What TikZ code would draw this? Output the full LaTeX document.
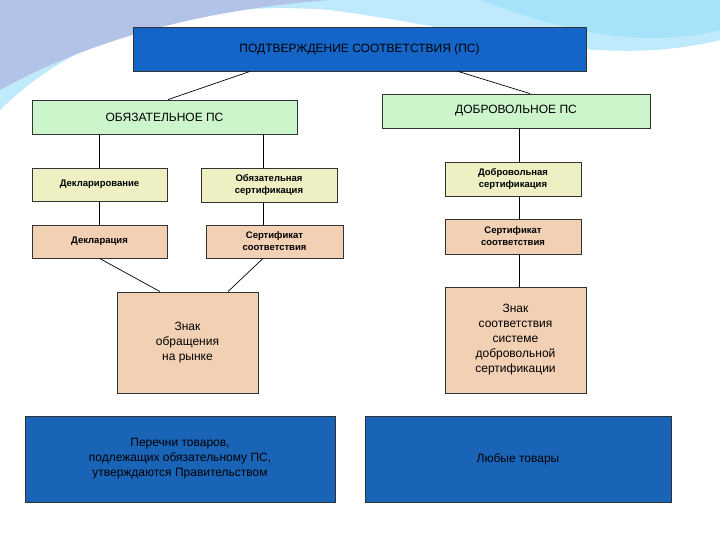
\documentclass[tikz,border=0pt]{standalone}
\usepackage{fontspec}
\setmainfont{Liberation Sans}
\begin{document}
\begin{tikzpicture}[x=1pt,y=-1pt,
 box/.style={draw=black!80,line width=0.8pt,align=center,inner sep=0pt},
 ln/.style={draw=black,line width=0.7pt}]
\definecolor{topblue}{HTML}{1565C8}
\definecolor{botblue}{HTML}{1A64B8}
\definecolor{grn}{HTML}{CCF5CC}
\definecolor{yel}{HTML}{EEF0C4}
\definecolor{pch}{HTML}{F2D0B4}
\useasboundingbox (0,0) rectangle (720,540);
\fill[white] (0,0) rectangle (720,540);
\fill[cyan!25] (0,0) -- (720,0) -- (720,40) .. controls (600,70) and (480,30) .. (330,10) .. controls (200,0) and (80,30) .. (0,110) -- cycle;
\fill[cyan!45!blue!30] (0,0) -- (330,0) .. controls (200,10) and (90,40) .. (0,90) -- cycle;
\fill[cyan!35] (480,0) -- (720,0) -- (720,30) .. controls (640,50) and (560,30) .. (480,0) -- cycle;
\node[box,fill=topblue,minimum width=453,minimum height=44,font=\fontsize{12}{14}\selectfont] (ps) at (359.5,49) {ПОДТВЕРЖДЕНИЕ СООТВЕТСТВИЯ (ПС)};
\node[box,fill=grn,minimum width=265,minimum height=34,font=\fontsize{12}{14}\selectfont] (ob) at (164.5,117) {ОБЯЗАТЕЛЬНОЕ ПС};
\node[box,fill=grn,minimum width=268,minimum height=34,font=\fontsize{12}{14}\selectfont] (dob) at (516,111) {ДОБРОВОЛЬНОЕ ПС};
\node[box,fill=yel,minimum width=135,minimum height=33,font=\bfseries\fontsize{9.5}{12}\selectfont] (dekl) at (99.5,184.5) {Декларирование};
\node[box,fill=yel,minimum width=136,minimum height=34,font=\bfseries\fontsize{9.5}{12}\selectfont] (obc) at (269,185) {Обязательная\\сертификация};
\node[box,fill=pch,minimum width=135,minimum height=33,font=\bfseries\fontsize{9.5}{12}\selectfont] (decl) at (99.5,241.5) {Декларация};
\node[box,fill=pch,minimum width=137,minimum height=33,font=\bfseries\fontsize{9.5}{12}\selectfont] (sl) at (274.5,241.5) {Сертификат\\соответствия};
\node[box,fill=yel,minimum width=136,minimum height=34,font=\bfseries\fontsize{9.5}{12}\selectfont] (dc) at (513,179) {Добровольная\\сертификация};
\node[box,fill=pch,minimum width=136,minimum height=35,font=\bfseries\fontsize{9.5}{12}\selectfont] (sr) at (513,236.5) {Сертификат\\соответствия};
\node[box,fill=pch,minimum width=141,minimum height=106,font=\fontsize{12}{15}\selectfont] (zr) at (515.5,340) {Знак\\соответствия\\системе\\добровольной\\сертификации};
\node[box,fill=pch,minimum width=141,minimum height=101,font=\fontsize{12}{15}\selectfont] (zl) at (187.5,342.5) {Знак\\обращения\\на рынке};
\node[box,fill=botblue,minimum width=310,minimum height=86,font=\fontsize{12}{15}\selectfont] (pl) at (180,459) {Перечни товаров,\\подлежащих обязательному ПС,\\утверждаются Правительством};
\node[box,fill=botblue,minimum width=306,minimum height=86,font=\fontsize{12}{15}\selectfont] (pr) at (518,459) {Любые товары};
\draw[ln] (ps.south -| 250,0) -- (ob.north -| 168,0);
\draw[ln] (ps.south -| 458,0) -- (dob.north -| 530,0);
\draw[ln] (ob.south -| dekl) -- (dekl);
\draw[ln] (dekl) -- (decl);
\draw[ln] (ob.south -| 263,0) -- (obc.north -| 263,0);
\draw[ln] (obc.south -| 263,0) -- (sl.north -| 263,0);
\draw[ln] (decl.south) -- (zl.north -| 160,0);
\draw[ln] (sl.south -| 263,0) -- (zl.north -| 228,0);
\draw[ln] (dob.south -| 519,0) -- (dc.north -| 519,0);
\draw[ln] (dc.south -| 519,0) -- (sr.north -| 519,0);
\draw[ln] (sr.south -| 519,0) -- (zr.north -| 519,0);
\end{tikzpicture}
\end{document}
